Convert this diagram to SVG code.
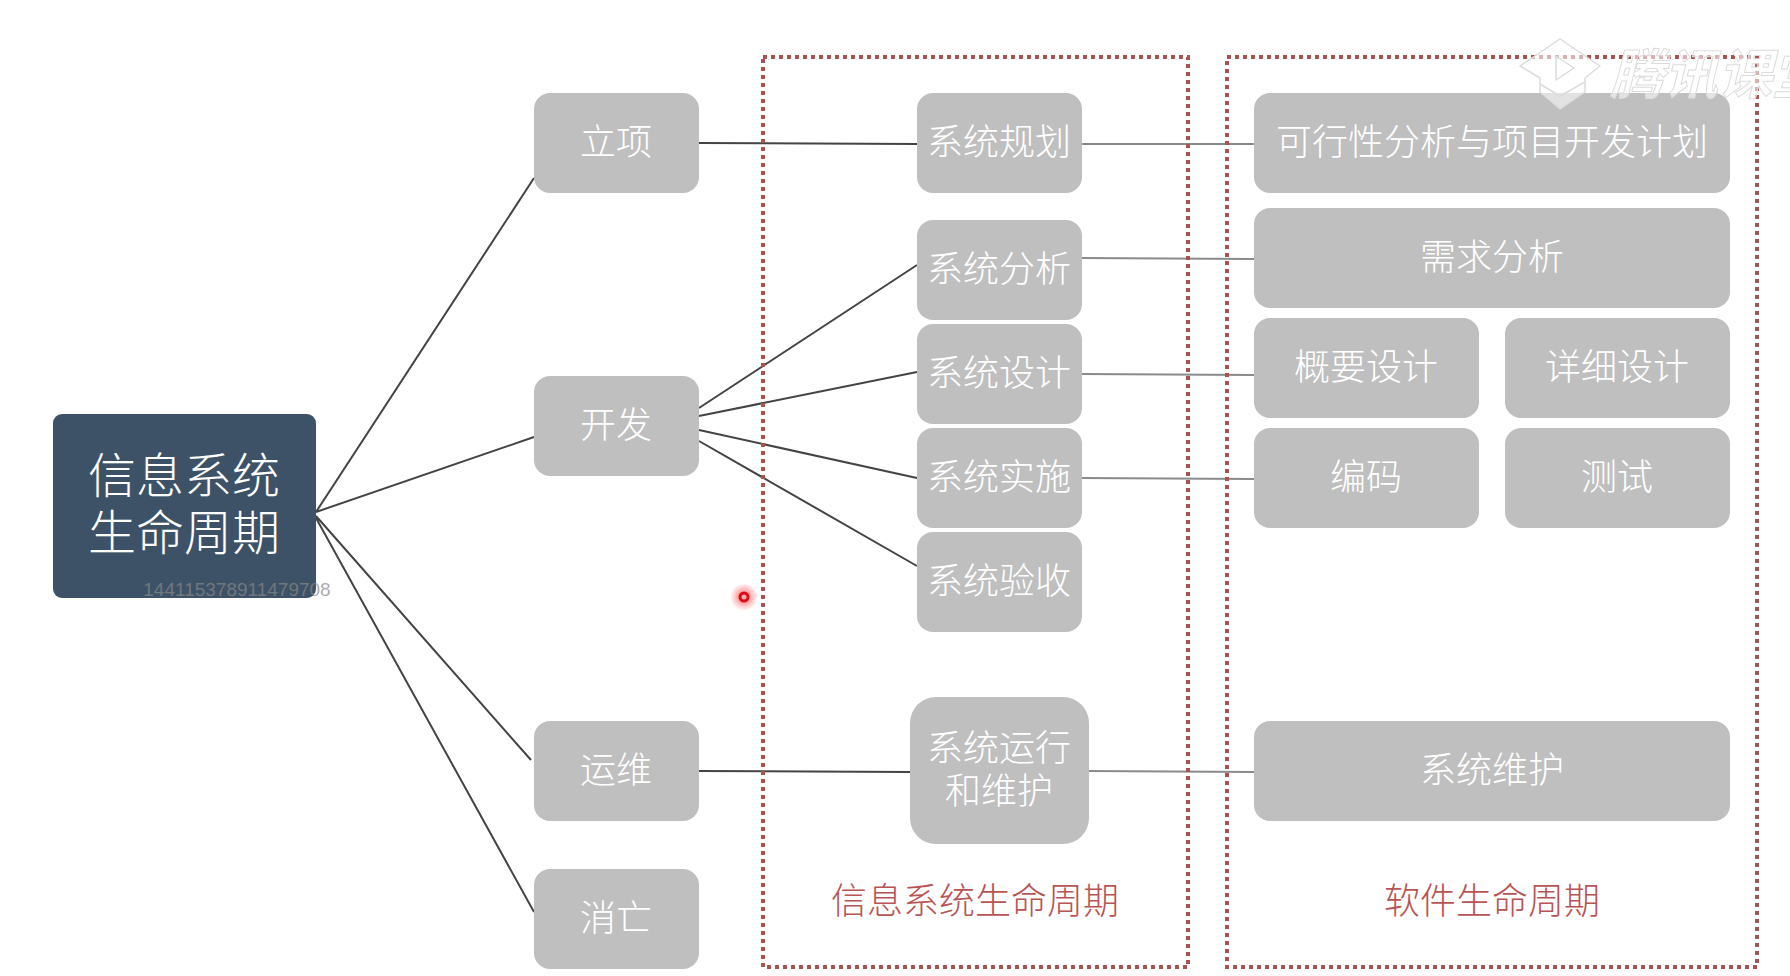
<svg xmlns="http://www.w3.org/2000/svg" width="1790" height="976" viewBox="0 0 1790 976">
<defs>
<radialGradient id="glow"><stop offset="0.2" stop-color="#f66" stop-opacity="0.8"/><stop offset="1" stop-color="#f66" stop-opacity="0"/></radialGradient>
</defs>
<style>
text{font-family:"Noto Sans CJK SC","Noto Sans",sans-serif;font-weight:300;text-anchor:middle}
.n rect{fill:#bfbfbf}
.n text{fill:#fff;font-size:36px}
.l{stroke:#444;stroke-width:2;fill:none}
.r{stroke:#8a8a8a;stroke-width:2;fill:none}
.d{fill:none;stroke:#a85252;stroke-width:4;stroke-dasharray:4 4}
.t{fill:#b85454;font-size:36px}
.w{fill:#fff;fill-opacity:.55;stroke:#dcdcdc;stroke-width:1.5;stroke-linejoin:round}
</style>
<rect width="1790" height="976" fill="#fff"/>
<g id="connectors">
<path class="l" d="M316 512L534 178M316 512L534 437M316 516L531 760M316 518L534 912"/>
<path class="l" d="M699 143L917 144M699 408L917 265M699 416L917 372M699 430L917 478M699 441L917 566M699 771L910 772"/>
<path class="r" d="M1082 144H1254M1082 258L1254 259M1082 374L1254 375M1082 478L1254 479M1089 771L1254 772"/>
</g>
<g id="main"><rect x="53" y="414" width="263" height="184" rx="9" fill="#3e5267"/>
<text x="184" y="493" fill="#fff" font-size="48">信息系统</text><text x="184" y="550" fill="#fff" font-size="48">生命周期</text></g>
<g id="n-lixiang" class="n"><rect x="534" y="93" width="165" height="100" rx="16"/><text x="616" y="155">立项</text></g>
<g id="n-kaifa" class="n"><rect x="534" y="376" width="165" height="100" rx="16"/><text x="616" y="438">开发</text></g>
<g id="n-yunwei" class="n"><rect x="534" y="721" width="165" height="100" rx="16"/><text x="616" y="783">运维</text></g>
<g id="n-xiaowang" class="n"><rect x="534" y="869" width="165" height="100" rx="16"/><text x="616" y="931">消亡</text></g>
<g id="n-guihua" class="n"><rect x="917" y="93" width="165" height="100" rx="16"/><text x="999" y="155">系统规划</text></g>
<g id="n-fenxi" class="n"><rect x="917" y="220" width="165" height="100" rx="16"/><text x="999" y="282">系统分析</text></g>
<g id="n-sheji" class="n"><rect x="917" y="324" width="165" height="100" rx="16"/><text x="999" y="386">系统设计</text></g>
<g id="n-shishi" class="n"><rect x="917" y="428" width="165" height="100" rx="16"/><text x="999" y="490">系统实施</text></g>
<g id="n-yanshou" class="n"><rect x="917" y="532" width="165" height="100" rx="16"/><text x="999" y="594">系统验收</text></g>
<g id="n-yunxing" class="n"><rect x="910" y="697" width="179" height="147" rx="26"/><text x="999" y="761">系统运行</text><text x="999" y="804">和维护</text></g>
<g id="n-kexing" class="n"><rect x="1254" y="93" width="476" height="100" rx="16"/><text x="1492" y="155">可行性分析与项目开发计划</text></g>
<g id="n-xuqiu" class="n"><rect x="1254" y="208" width="476" height="100" rx="16"/><text x="1492" y="270">需求分析</text></g>
<g id="n-gaiyao" class="n"><rect x="1254" y="318" width="225" height="100" rx="16"/><text x="1366" y="380">概要设计</text></g>
<g id="n-xiangxi" class="n"><rect x="1505" y="318" width="225" height="100" rx="16"/><text x="1617" y="380">详细设计</text></g>
<g id="n-bianma" class="n"><rect x="1254" y="428" width="225" height="100" rx="16"/><text x="1366" y="490">编码</text></g>
<g id="n-ceshi" class="n"><rect x="1505" y="428" width="225" height="100" rx="16"/><text x="1617" y="490">测试</text></g>
<g id="n-weihu" class="n"><rect x="1254" y="721" width="476" height="100" rx="16"/><text x="1492" y="783">系统维护</text></g>
<g id="boxes">
<rect class="d" x="763" y="57" width="425" height="910"/>
<rect class="d" x="1227" y="57" width="530" height="910"/>
<text class="t" x="975" y="914">信息系统生命周期</text>
<text class="t" x="1492" y="914">软件生命周期</text>
</g>
<text x="237" y="596" style="font-family:'Liberation Sans',sans-serif;font-size:19px;font-weight:400" fill="#888" fill-opacity=".7">144115378911479708</text>
<g id="pointer"><circle cx="744" cy="597" r="14" fill="url(#glow)"/><circle cx="744" cy="597" r="4" fill="#f8b0b0" stroke="#e00a14" stroke-width="3"/></g>
<g id="watermark">
<path class="w" d="M1560 39L1600 66L1585 78V92L1560 109L1540 92V78L1520 66Z"/>
<path class="w" d="M1556 56L1574 68L1556 80Z"/>
<path class="w" d="M1540 84L1560 96L1585 82" style="fill:none"/>
<text x="1610" y="94" class="w" font-size="54" font-style="italic" style="stroke-width:1;text-anchor:start;font-weight:700">腾讯课堂</text>
</g>
</svg>
